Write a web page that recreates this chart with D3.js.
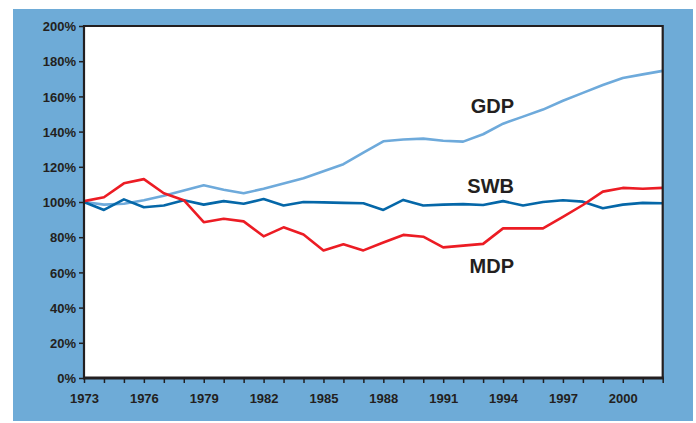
<!DOCTYPE html>
<html>
<head>
<meta charset="utf-8">
<script src="https://cdn.jsdelivr.net/npm/d3@7"></script>
<style>
  body { margin: 0; background: #fff; }
  svg { display: block; font-family: "Liberation Sans", Arial, sans-serif; }
  .axis text { font-family: "Liberation Sans", Arial, sans-serif; font-size: 13px; font-weight: bold; fill: #231f20; }
  .axis line { stroke: #231f20; stroke-width: 1.5; }
  .axis path { display: none; }
</style>
</head>
<body>
<svg id="chart" width="696" height="423"></svg>
<script>
// years 1973..2002, values as % of 1973
var years = d3.range(1973, 2003);
var gdp = [100, 98.5, 99, 101, 103.5, 106.5, 109.5, 107, 105, 107.5,
           110.5, 113.5, 117.5, 121.5, 128, 134.5, 135.5, 136, 134.8, 134.3,
           138.5, 144.5, 148.5, 152.5, 157.5, 162, 166.5, 170.5, 172.5, 174.5];
var swb = [100, 95.5, 101.5, 97, 98, 101, 98.5, 100.5, 99, 101.7,
           98, 100, 99.8, 99.5, 99.3, 95.5, 101.2, 98, 98.5, 98.8,
           98.3, 100.5, 98, 100, 101, 100.2, 96.5, 98.5, 99.5, 99.3];
var mdp = [100.5, 102.7, 110.6, 113, 105, 101, 88.5, 90.5, 89, 80.5,
           85.6, 81.5, 72.5, 76, 72.5, 77, 81.3, 80.3, 74.2, 75.2,
           76.2, 85, 85, 85, 91.5, 98.3, 105.9, 108, 107.5, 108];
var yTicks = [0, 20, 40, 60, 80, 100, 120, 140, 160, 180, 200];
var xLabelYears = [1973, 1976, 1979, 1982, 1985, 1988, 1991, 1994, 1997, 2000];

var series = [
  {name: "GDP", values: gdp, color: "#6eaadb", label: [514, 112.5]},
  {name: "SWB", values: swb, color: "#0567a8", label: [514, 192.5]},
  {name: "MDP", values: mdp, color: "#ec1c24", label: [514, 272.5]}
];

var svg = d3.select("#chart");
var pLeft = 84, pRight = 662.7, pTop = 26, pBottom = 378;

svg.append("rect")
    .attr("x", 13).attr("y", 9)
    .attr("width", 680).attr("height", 412)
    .attr("fill", "#6eabd7");

svg.append("rect")
    .attr("x", pLeft).attr("y", pTop)
    .attr("width", pRight - pLeft).attr("height", pBottom - pTop)
    .attr("fill", "#fff");

var x = d3.scaleLinear().domain([1973, 2002]).range([pLeft, pRight]);
var y = d3.scaleLinear().domain([0, 200]).range([pBottom, pTop]);

var xAxis = svg.append("g")
    .attr("class", "axis")
    .attr("transform", "translate(0," + pBottom + ")")
    .call(d3.axisBottom(x)
        .tickValues(years)
        .tickSize(5)
        .tickFormat(function(d) { return xLabelYears.indexOf(d) >= 0 ? d : ""; }));
xAxis.selectAll("text").attr("dy", null).attr("y", 25);

var yAxis = svg.append("g")
    .attr("class", "axis")
    .attr("transform", "translate(" + pLeft + ",0)")
    .call(d3.axisLeft(y)
        .tickValues(yTicks)
        .tickSize(5)
        .tickPadding(3)
        .tickFormat(function(d) { return d + "%"; }));
yAxis.selectAll("text").attr("dy", "0.36em");

var line = d3.line()
    .x(function(d, i) { return x(years[i]); })
    .y(function(d) { return y(d); });

svg.append("clipPath").attr("id", "plotclip")
  .append("rect")
    .attr("x", pLeft).attr("y", pTop)
    .attr("width", pRight - pLeft).attr("height", pBottom - pTop);

svg.selectAll(".series")
    .data(series)
  .enter().append("path")
    .attr("class", "series")
    .attr("clip-path", "url(#plotclip)")
    .attr("d", function(d) { return line(d.values); })
    .attr("fill", "none")
    .attr("stroke", function(d) { return d.color; })
    .attr("stroke-width", 2.6)
    .attr("stroke-linejoin", "round");

// plot frame
svg.append("path")
    .attr("d", "M" + pLeft + "," + pBottom + "V" + pTop + "H" + pRight + "V" + pBottom)
    .attr("fill", "none")
    .attr("stroke", "#231f20")
    .attr("stroke-width", 2.2);

svg.append("line")
    .attr("x1", pLeft - 1).attr("x2", pRight + 1)
    .attr("y1", pBottom).attr("y2", pBottom)
    .attr("stroke", "#231f20")
    .attr("stroke-width", 3);

svg.selectAll(".slabel")
    .data(series)
  .enter().append("text")
    .attr("class", "slabel")
    .attr("x", function(d) { return d.label[0]; })
    .attr("y", function(d) { return d.label[1]; })
    .attr("text-anchor", "end")
    .attr("font-size", 20)
    .attr("font-weight", "bold")
    .attr("fill", "#231f20")
    .text(function(d) { return d.name; });
</script>
</body>
</html>
